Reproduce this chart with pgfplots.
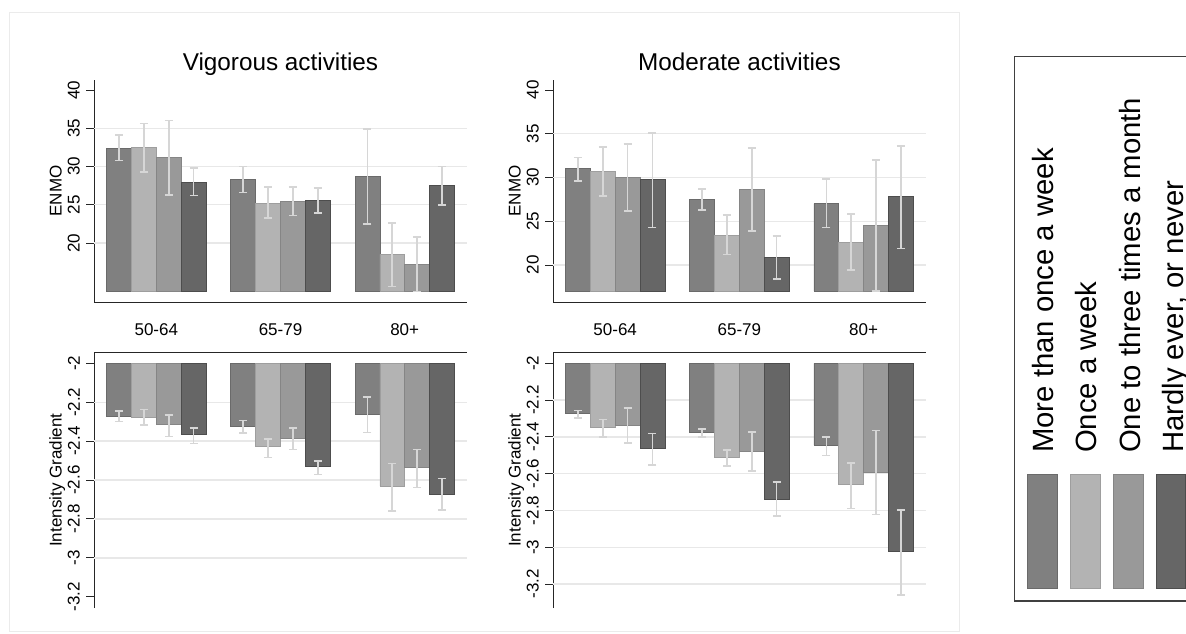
\documentclass[border=0pt]{standalone}
\usepackage{fontspec}
\setmainfont{Liberation Sans}
\usepackage{pgfplots}
\usepackage{pgfplotstable}
\pgfplotsset{compat=1.18}

\definecolor{cA}{HTML}{808080}
\definecolor{cB}{HTML}{B3B3B3}
\definecolor{cC}{HTML}{999999}
\definecolor{cD}{HTML}{666666}
\definecolor{oA}{HTML}{6A6A6A}
\definecolor{oB}{HTML}{9E9E9E}
\definecolor{oC}{HTML}{858585}
\definecolor{oD}{HTML}{4D4D4D}
\definecolor{errc}{HTML}{D6D6D6}
\definecolor{gridc}{HTML}{E8E8E8}

% x  mean/low/high for the four frequency groups
\pgfplotstableread{
x m1 l1 h1 m2 l2 h2 m3 l3 h3 m4 l4 h4
1 32.35 30.8 34.1 32.5 29.3 35.6 31.2 26.3 36.0 27.96 26.2 29.8
2 28.3 26.6 30.0 25.2 23.3 27.3 25.4 23.6 27.3 25.6 23.9 27.2
3 28.7 22.5 34.9 18.5 14.3 22.65 17.2 13.65 20.8 27.5 24.96 30.0
}\tabTL
\pgfplotstableread{
x m1 l1 h1 m2 l2 h2 m3 l3 h3 m4 l4 h4
1 31.0 29.6 32.3 30.7 27.9 33.5 30.0 26.2 33.8 29.8 24.3 35.1
2 27.5 26.3 28.7 23.4 21.2 25.7 28.6 23.9 33.4 20.9 18.4 23.3
3 27.0 24.3 29.8 22.6 19.4 25.8 24.5 17.0 32.0 27.8 21.9 33.6
}\tabTR
\pgfplotstableread{
x m1 l1 h1 m2 l2 h2 m3 l3 h3 m4 l4 h4
1 -2.271 -2.298 -2.245 -2.276 -2.316 -2.238 -2.316 -2.376 -2.266 -2.367 -2.412 -2.333
2 -2.322 -2.357 -2.293 -2.429 -2.484 -2.390 -2.384 -2.443 -2.331 -2.531 -2.571 -2.503
3 -2.262 -2.355 -2.174 -2.631 -2.759 -2.514 -2.534 -2.638 -2.443 -2.672 -2.753 -2.593
}\tabBL
\pgfplotstableread{
x m1 l1 h1 m2 l2 h2 m3 l3 h3 m4 l4 h4
1 -2.274 -2.297 -2.256 -2.348 -2.400 -2.306 -2.337 -2.434 -2.243 -2.463 -2.553 -2.382
2 -2.373 -2.400 -2.357 -2.510 -2.559 -2.472 -2.479 -2.587 -2.375 -2.737 -2.831 -2.645
3 -2.445 -2.501 -2.400 -2.659 -2.789 -2.541 -2.593 -2.822 -2.366 -3.022 -3.261 -2.798
}\tabBR

\pgfplotsset{
  panel/.style={
    scale only axis, width=372.6pt, xmin=0.5, xmax=3.5,
    axis line style={black!85, line width=0.9pt},
    ybar, bar width=0.2,
    tick align=outside, major tick length=7.7pt,
    ytick style={black!85, line width=0.9pt},
    xtick style={draw=none},
    yticklabel style={xshift=-6.5pt, rotate=90, anchor=south, inner sep=0pt,
      font=\fontsize{17}{17}\selectfont},
    every axis y label/.style={at={(axis description cs:0,0.5)}, xshift=-32.5pt,
      rotate=90, anchor=base, font=\fontsize{17}{17}\selectfont},
    every axis title/.style={at={(axis description cs:0.5,1)}, anchor=base,
      yshift=9.3pt, font=\fontsize{24.3}{24.3}\selectfont},
    extra y tick style={ymajorgrids=true, major tick length=0pt, yticklabels={}},
    grid style={gridc, line width=1.4pt},
    error bars/error bar style={errc, line width=1.6pt},
    error bars/error mark options={errc, rotate=90, line width=1.6pt, mark size=4pt},
  },
  basey/.style={y coord trafo/.code={\pgfmathparse{##1-(#1)}},
                y coord inv trafo/.code={\pgfmathparse{##1+(#1)}}},
  top/.style={axis x line*=bottom, axis y line*=left, height=222pt,
    xtick={1,2,3}, xticklabels={50-64,65-79,80+},
    xticklabel style={anchor=base, inner sep=0pt, yshift=-25.3pt,
      font=\fontsize{17}{17}\selectfont},
    ytick={20,25,30,35,40}, yticklabels={20,25,30,35,40},
    extra y ticks={20,25,30,35}},
  bottom/.style={axis x line*=top, axis y line*=left, height=255.7pt,
    xtick=\empty,
    ytick={-3.2,-3,-2.8,-2.6,-2.4,-2.2,-2},
    yticklabels={-3.2,-3,-2.8,-2.6,-2.4,-2.2,-2}},
  s1/.style={fill=cA, draw=oA, line width=0.7pt, bar shift=-0.3},
  s2/.style={fill=cB, draw=oB, line width=0.7pt, bar shift=-0.1},
  s3/.style={fill=cC, draw=oC, line width=0.7pt, bar shift=0.1},
  s4/.style={fill=cD, draw=oD, line width=0.7pt, bar shift=0.3},
}

\newcommand{\fourbars}[1]{%
  \addplot[s1, error bars/.cd, y dir=both, y explicit] table[x=x, y=m1,
    y error plus expr=\thisrow{h1}-\thisrow{m1}, y error minus expr=\thisrow{m1}-\thisrow{l1}] {#1};
  \addplot[s2, error bars/.cd, y dir=both, y explicit] table[x=x, y=m2,
    y error plus expr=\thisrow{h2}-\thisrow{m2}, y error minus expr=\thisrow{m2}-\thisrow{l2}] {#1};
  \addplot[s3, error bars/.cd, y dir=both, y explicit] table[x=x, y=m3,
    y error plus expr=\thisrow{h3}-\thisrow{m3}, y error minus expr=\thisrow{m3}-\thisrow{l3}] {#1};
  \addplot[s4, error bars/.cd, y dir=both, y explicit] table[x=x, y=m4,
    y error plus expr=\thisrow{h4}-\thisrow{m4}, y error minus expr=\thisrow{m4}-\thisrow{l4}] {#1};
}

\begin{document}
\begin{tikzpicture}
\path[use as bounding box] (0pt,0pt) rectangle (1186pt,633pt);
\draw[black!8, line width=0.8pt] (9pt,1.3pt) rectangle (959pt,621pt);

\begin{axis}[panel, top, basey=13.7, at={(94.2pt,331pt)}, anchor=south west,
  ymin=12.29, ymax=41.31, ylabel={ENMO}, title={Vigorous activities}]
\fourbars{\tabTL}
\end{axis}

\begin{axis}[panel, top, basey=17.0, at={(553.1pt,331pt)}, anchor=south west,
  ymin=15.77, ymax=41.14, ylabel={ENMO}, title={Moderate activities}]
\fourbars{\tabTR}
\end{axis}

\begin{axis}[panel, bottom, basey=-2, at={(94.2pt,25pt)}, anchor=south west,
  ymin=-3.258, ymax=-1.943, ylabel={Intensity Gradient},
  extra y ticks={-3,-2.8,-2.6,-2.4,-2.2}]
\fourbars{\tabBL}
\end{axis}

\begin{axis}[panel, bottom, basey=-2, at={(553.1pt,25pt)}, anchor=south west,
  ymin=-3.3305, ymax=-1.940, ylabel={Intensity Gradient},
  extra y ticks={-3.2,-3,-2.8,-2.6,-2.4,-2.2}]
\fourbars{\tabBR}
\end{axis}

% legend
\draw[black!75, line width=1.2pt] (1220pt,576.3pt) -- (1014.5pt,576.3pt) -- (1014.5pt,32pt) -- (1220pt,32pt);
\foreach \xx/\fc/\oc in {1027.7/cA/oA, 1070.5/cB/oB, 1113.3/cC/oC, 1156/cD/oD}
  \filldraw[fill=\fc, draw=\oc, line width=0.7pt] (\xx pt,45pt) rectangle ++(29.6pt,114pt);
\begin{scope}[every node/.style={rotate=90, anchor=base west, inner sep=0pt,
    font=\fontsize{29.3}{29.3}\selectfont}]
\node at (1053.3pt,180pt) {More than once a week};
\node at (1096.7pt,180pt) {Once a week};
\node at (1140pt,180pt) {One to three times a month};
\node at (1183.3pt,180pt) {Hardly ever, or never};
\end{scope}
\end{tikzpicture}
\end{document}
